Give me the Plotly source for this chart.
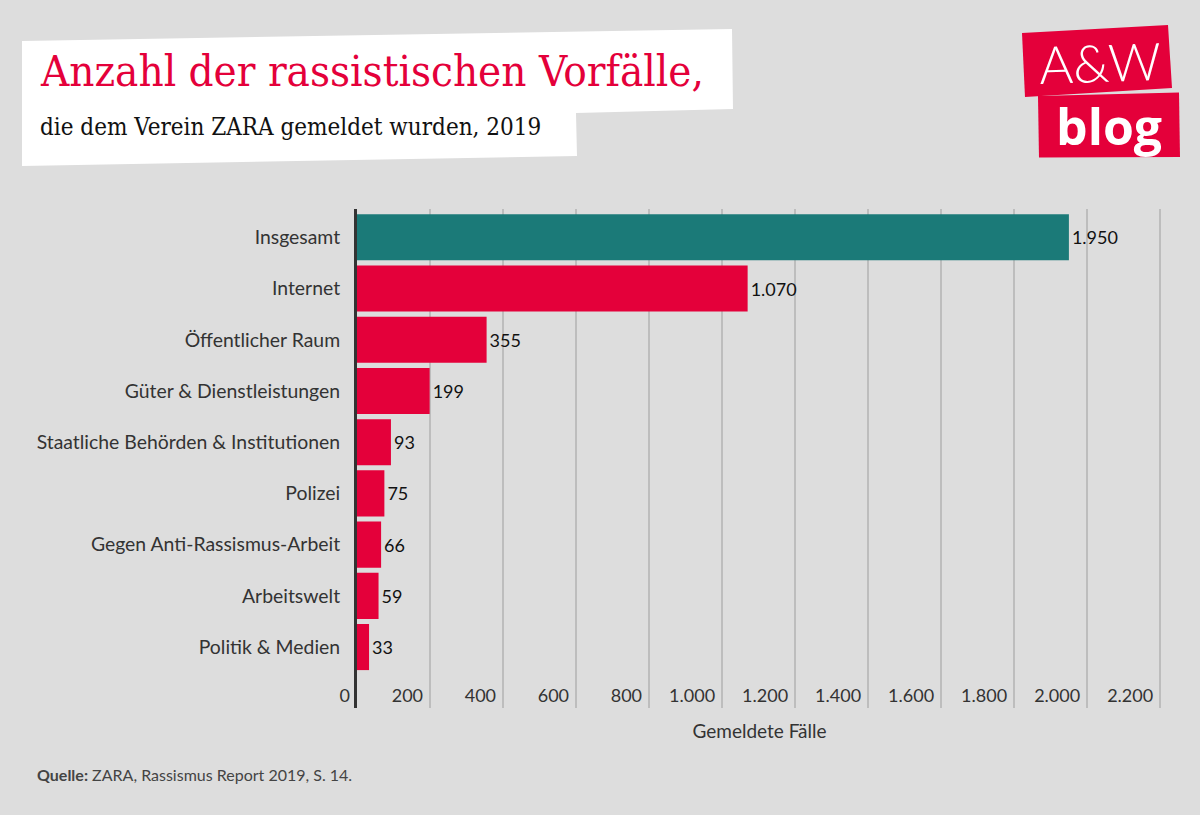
import plotly.graph_objects as go

categories = ["Insgesamt", "Internet", "Öffentlicher Raum", "Güter & Dienstleistungen",
              "Staatliche Behörden & Institutionen", "Polizei", "Gegen Anti-Rassismus-Arbeit",
              "Arbeitswelt", "Politik & Medien"]
values = [1950, 1070, 355, 199, 93, 75, 66, 59, 33]
bar_colors = ["#1b7a78"] + ["#e4003a"] * 8
x_ticks = [0, 200, 400, 600, 800, 1000, 1200, 1400, 1600, 1800, 2000, 2200]

W, H = 1200, 815
L, R, T, B = 357, 38, 209, 107
PW, PH = W - L - R, H - T - B

def px(x):
    return (x - L) / PW

def py(y):
    return (H - B - y) / PH

def path(points):
    s = "M " + " L ".join(f"{px(a):.5f},{py(b):.5f}" for a, b in points) + " Z"
    return s

fig = go.Figure()
fig.add_trace(go.Bar(
    x=values, y=categories, orientation="h",
    marker=dict(color=bar_colors, line=dict(width=0)),
    text=values, texttemplate="%{x:,}", textposition="outside",
    textfont=dict(family="Lato", size=18, color="#111"),
    cliponaxis=False, hoverinfo="skip",
))

shapes = [
    dict(type="path", xref="paper", yref="paper", layer="below",
         path=path([(22, 41), (732, 29), (733, 109), (576, 113), (577, 156), (22, 166)]),
         fillcolor="white", line=dict(width=0)),
    dict(type="path", xref="paper", yref="paper",
         path=path([(1022, 33), (1168, 25), (1172, 88), (1025, 97)]),
         fillcolor="#e4003a", line=dict(width=0)),
    dict(type="path", xref="paper", yref="paper",
         path=path([(1038, 96), (1179, 92.5), (1180, 157), (1039, 157.5)]),
         fillcolor="#e4003a", line=dict(width=0)),
]

annotations = [
    dict(text="Anzahl der rassistischen Vorfälle,", x=px(38), y=py(71), xref="paper", yref="paper",
         xanchor="left", yanchor="middle", showarrow=False,
         font=dict(family="DejaVu Serif Condensed", size=43.5, color="#e4003a")),
    dict(text="die dem Verein ZARA gemeldet wurden, 2019", x=px(38), y=py(127), xref="paper", yref="paper",
         xanchor="left", yanchor="middle", showarrow=False,
         font=dict(family="DejaVu Serif Condensed", size=24, color="#111")),
    dict(text="A&W", x=px(1100), y=py(62), xref="paper", yref="paper",
         xanchor="center", yanchor="middle", showarrow=False, textangle=-2,
         font=dict(family="Lato", size=52, color="white", weight=300)),
    dict(text="blog", x=px(1109), y=py(126), xref="paper", yref="paper",
         xanchor="center", yanchor="middle", showarrow=False,
         font=dict(family="Open Sans", size=50, color="white", weight=700)),
    dict(text="<b>Quelle:</b> ZARA, Rassismus Report 2019, S. 14.", x=px(35), y=py(774),
         xref="paper", yref="paper", xanchor="left", yanchor="middle", showarrow=False,
         font=dict(family="Lato", size=16, color="#444")),
]

fig.update_layout(
    width=W, height=H, margin=dict(l=L, r=R, t=T, b=B, pad=0),
    paper_bgcolor="#dddddd", plot_bgcolor="#dddddd",
    separators=",.", showlegend=False, bargap=0.10,
    shapes=shapes, annotations=annotations,
    font=dict(family="Lato", color="#333"),
)
fig.update_xaxes(
    range=[0, 2205], tickvals=x_ticks, tickformat=",d",
    ticklabelposition="inside left", ticklabeloverflow="allow",
    ticklabelshift=-7, ticklabelstandoff=-4, ticks="", showgrid=True,
    gridcolor="#bdbdbd", gridwidth=1.5, zeroline=False, showline=False,
    tickfont=dict(family="Lato", size=18, color="#333"),
    title=dict(text="Gemeldete Fälle", font=dict(family="Lato", size=19, color="#333"), standoff=19),
)
fig.update_yaxes(
    categoryorder="array", categoryarray=categories, range=[9.19, -0.553],
    showline=True, linecolor="#333", linewidth=3, showgrid=False, zeroline=False,
    ticks="", ticklabelstandoff=10,
    tickfont=dict(family="Lato", size=19.4, color="#333"),
)

fig.write_html("out.html")
